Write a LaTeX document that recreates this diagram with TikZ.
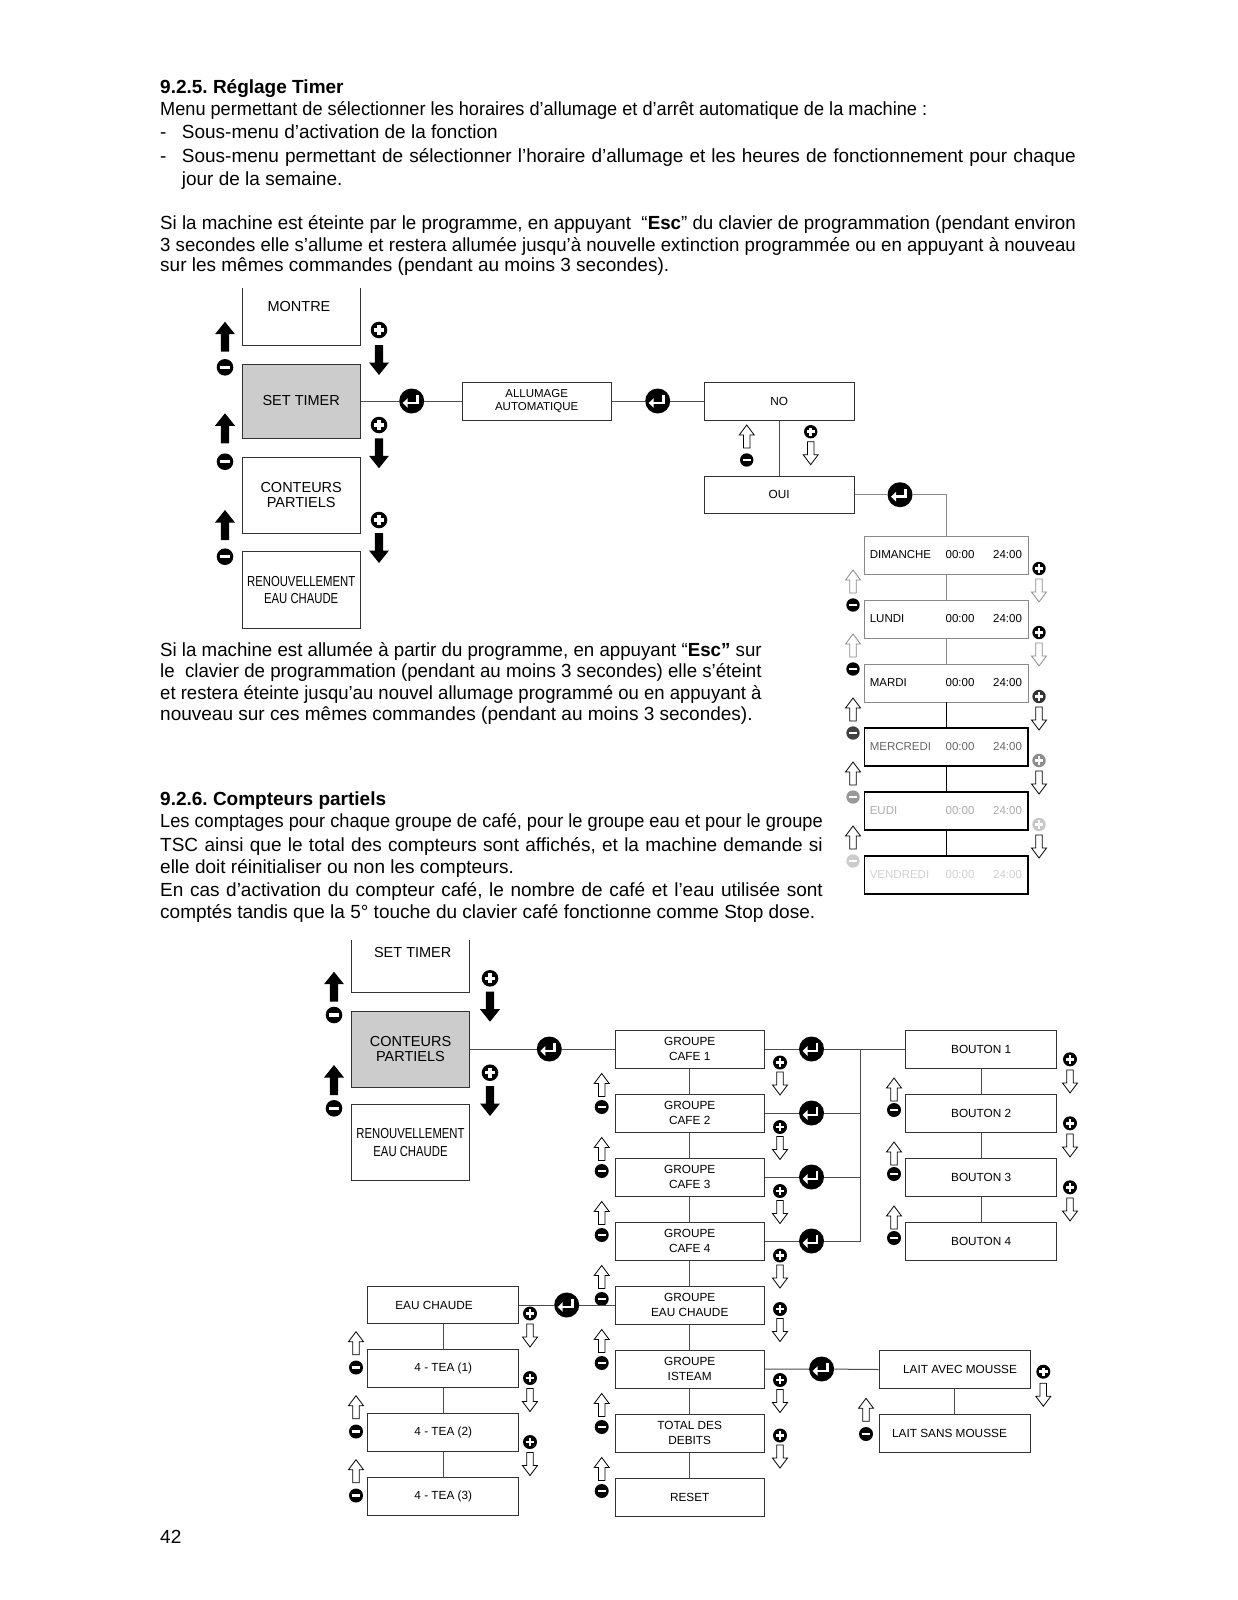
\documentclass[tikz,border=0pt]{standalone}
\usepackage{fontspec}
\setmainfont{Liberation Sans}
\usepackage{graphicx}
\usetikzlibrary{calc}
\frenchspacing
\definecolor{selgray}{HTML}{CCCCCC}
\definecolor{dayg}{HTML}{8A8A8A}
\newlength\tlen
\newcommand{\jline}[2]{\settowidth{\tlen}{#2}\ifdim\tlen>#1\relax\resizebox{#1}{\height}{#2}\else\makebox[#1][s]{#2}\fi}
\newcommand{\bodyf}{\fontsize{19}{22}\selectfont}
\newcommand{\lbig}{\fontsize{14.5}{15}\selectfont}
\newcommand{\lsm}{\fontsize{11.8}{15}\selectfont}
\newcommand{\lday}{\fontsize{11.5}{13}\selectfont}
\newcommand{\nrw}[1]{\scalebox{0.78}[1]{#1}}
\newcommand{\minusc}[4][black]{\fill[#1] (#2,#3) circle[radius=#4pt]; \fill[white] (#2,#3) ++(-0.6*#4,-0.19*#4) rectangle ++(1.2*#4,0.38*#4);}
\newcommand{\plusc}[4][black]{\fill[#1] (#2,#3) circle[radius=#4pt]; \fill[white] (#2,#3) ++(-0.6*#4,-0.19*#4) rectangle ++(1.2*#4,0.38*#4); \fill[white] (#2,#3) ++(-0.19*#4,-0.6*#4) rectangle ++(0.38*#4,1.2*#4);}
\newcommand{\blkup}[2]{\fill (#1,#2) -- ++(10,12.5) -- ++(-5.85,0) -- ++(0,17.5) -- ++(-8.3,0) -- ++(0,-17.5) -- ++(-5.85,0) -- cycle;}
\newcommand{\blkdown}[2]{\fill (#1,#2) ++(-4.15,0) -- ++(8.3,0) -- ++(0,17.5) -- ++(5.85,0) -- ++(-10,12.5) -- ++(-10,-12.5) -- ++(5.85,0) -- cycle;}
\newcommand{\oup}[3][black]{\draw[#1, line width=0.8pt, fill=white] (#2,#3) -- ++(7.5,10) -- ++(-4.25,0) -- ++(0,13) -- ++(-6.5,0) -- ++(0,-13) -- ++(-4.25,0) -- cycle;}
\newcommand{\odown}[3][black]{\draw[#1, line width=0.8pt, fill=white] (#2,#3) ++(-3.25,0) -- ++(6.5,0) -- ++(0,13) -- ++(4.25,0) -- ++(-7.5,10) -- ++(-7.5,-10) -- ++(4.25,0) -- cycle;}
\tikzset{
  box/.style={draw=black!80, line width=1pt, inner sep=0pt, align=center},
  menubox/.style={box, minimum width=117.7, font=\lbig},
  gbox/.style={box, minimum width=149.3, minimum height=38, font=\lsm},
  dbox/.style={minimum width=163.6, minimum height=38, inner sep=0pt},
  conn/.style={draw=black!70, line width=1pt},
  txt/.style={anchor=base west, inner sep=0pt, font=\bodyf},
  enterk/.style={circle, fill=black, minimum size=25, inner sep=0pt, path picture={
    \fill[white] ($(path picture bounding box.center)+(-9pt,-2pt)$) -- ++(5pt,4.8pt) -- ++(0pt,-9.6pt) -- cycle;
    \draw[white, line width=2.8pt] ($(path picture bounding box.center)+(-5pt,-2pt)$) -- ++(10.5pt,0pt) -- ++(0pt,8pt);
  }},
}
\begin{document}
\begin{tikzpicture}[x=1pt, y=-1pt]
\fill[white] (0,0) rectangle (1237,1600);
\useasboundingbox (0,0) rectangle (1237,1600);

% ---------- text ----------
\node[txt, font=\bodyf\bfseries] (h1) at (160,94) {9.2.5. Réglage Timer};
\node[txt] (p1) at (160,116) {\jline{767pt}{Menu permettant de sélectionner les horaires d’allumage et d’arrêt automatique de la machine :}};
\node[txt] (p2a) at (160,139) {-};
\node[txt] (p2) at (181.7,139) {Sous-menu d’activation de la fonction};
\node[txt] (p3a) at (160,162) {-};
\node[txt] (p3) at (181.7,162) {\jline{894pt}{Sous-menu permettant de sélectionner l’horaire d’allumage et les heures de fonctionnement pour chaque}};
\node[txt] (p4) at (181.7,185) {jour de la semaine.};
\node[txt] (p5) at (160,229.5) {\jline{915.7pt}{Si la machine est éteinte par le programme, en appuyant\ \ “\textbf{Esc}” du clavier de programmation (pendant environ}};
\node[txt] (p6) at (160,251) {\jline{915.7pt}{3 secondes elle s’allume et restera allumée jusqu’à nouvelle extinction programmée ou en appuyant à nouveau}};
\node[txt] (p7) at (160,271.5) {sur les mêmes commandes (pendant au moins 3 secondes).};

\node[txt] (m1) at (160,656) {\jline{601.4pt}{Si la machine est allumée à partir du programme, en appuyant “\textbf{Esc”} sur}};
\node[txt] (m2) at (160,677.5) {\jline{601.4pt}{le\ \ clavier de programmation (pendant au moins 3 secondes) elle s’éteint}};
\node[txt] (m3) at (160,699) {\jline{601.4pt}{et restera éteinte jusqu’au nouvel allumage programmé ou en appuyant à}};
\node[txt] (m4) at (160,720.5) {nouveau sur ces mêmes commandes (pendant au moins 3 secondes).};

\node[txt, font=\bodyf\bfseries] (h2) at (160,805) {9.2.6. Compteurs partiels};
\node[txt] (s1) at (160,827.5) {\jline{662.6pt}{Les comptages pour chaque groupe de café, pour le groupe eau et pour le groupe}};
\node[txt] (s2) at (160,851) {\jline{662.6pt}{TSC ainsi que le total des compteurs sont affichés, et la machine demande si}};
\node[txt] (s3) at (160,873.5) {elle doit réinitialiser ou non les compteurs.};
\node[txt] (s4) at (160,896) {\jline{662.6pt}{En cas d’activation du compteur café, le nombre de café et l’eau utilisée sont}};
\node[txt] (s5) at (160,918.5) {comptés tandis que la 5° touche du clavier café fonctionne comme Stop dose.};
\node[txt] (pg) at (160,1543) {42};

% ---------- top diagram ----------
\node[inner sep=0pt, minimum width=117.7, minimum height=57] (montre) at (301.2,316.5) {};
\draw[conn, draw=black!80] (montre.north west) -- (montre.south west) -- (montre.south east) -- (montre.north east);
\node[font=\lbig, inner sep=0pt] (montreT) at (299,306.7) {MONTRE};
\node[menubox, fill=selgray, minimum height=74] (st1) at (301.2,401) {SET TIMER};
\node[menubox, minimum height=75.6] (ct1) at (301.2,495.5) {CONTEURS\\PARTIELS};
\node[menubox, minimum height=76.6, font=\fontsize{14.5}{17.3}\selectfont] (rn1) at (301.2,590) {\nrw{RENOUVELLEMENT}\\\nrw{EAU CHAUDE}};

\blkup{225}{321.7} \minusc{225}{367.3}{8.3}
\blkup{225}{413.3} \minusc{225}{461.7}{8.3}
\blkup{225}{510} \minusc{225}{556.7}{8.3}
\plusc{379}{330}{8.3} \blkdown{379}{345}
\plusc{379}{425}{8.3} \blkdown{379}{438.3}
\plusc{379}{520}{8.3} \blkdown{379}{533}

\node[enterk] (en1) at (411.7,401) {};
\node[box, minimum width=148.7, minimum height=38, font=\fontsize{11.5}{13.7}\selectfont] (allum) at (536.7,401) {ALLUMAGE\\AUTOMATIQUE};
\draw[conn] (st1.east) -- (en1) -- (allum.west);
\node[enterk] (en2) at (657.7,401) {};
\node[box, minimum width=149.7, minimum height=38, font=\lsm] (no) at (779.2,401) {NO};
\draw[conn] (allum.east) -- (en2) -- (no.west);
\node[box, minimum width=149.7, minimum height=37.3, font=\lsm] (oui) at (779.2,494.7) {OUI};
\draw[conn] (no.south) -- (oui.north);
\oup{746.7}{425} \minusc{746.7}{460}{6.7}
\plusc{810.7}{431.7}{6.7} \odown{810.7}{441.7}

\node[enterk] (en3) at (900,494.7) {};
\foreach \i/\yy/\nm/\tc/\bc/\lw in {1/555/DIMANCHE/black/dayg/0.8, 2/619/LUNDI/black/dayg/0.8, 3/683/MARDI/black/dayg/0.8, 4/747/MERCREDI/black!60/black/1.3, 5/811/EUDI/black!32/black/1.3, 6/875/VENDREDI/black!18/black/1.3} {
  \node[dbox, draw=\bc, line width=\lw pt] (d\i) at (946.2,\yy) {};
  \node[anchor=west, inner sep=0pt, font=\lday, text=\tc] (dn\i) at (869.6,\yy) {\nm};
  \node[inner sep=0pt, font=\lday, text=\tc] (da\i) at (960,\yy) {00:00};
  \node[inner sep=0pt, font=\lday, text=\tc] (db\i) at (1007.5,\yy) {24:00};
}
\draw[dayg, line width=0.8pt] (oui.east) -- (en3) -- (en3 -| d1.north) -- (d1.north);
\draw[dayg, line width=0.8pt] (d1.south) -- (d2.north);
\draw[dayg, line width=0.8pt] (d2.south) -- (d3.north);
\draw[black, line width=1.3pt] (d3.south) -- (d4.north);
\draw[black, line width=1.3pt] (d4.south) -- (d5.north);
\draw[black, line width=1.3pt] (d5.south) -- (d6.north);

\oup[dayg]{853}{570} \minusc{853}{605}{6.7}
\oup[dayg]{853}{634} \minusc{853}{669}{6.7}
\oup{853}{698} \minusc[black!75]{853}{733}{6.7}
\oup{853}{762} \minusc[black!40]{853}{797}{6.7}
\oup{853}{826} \minusc[black!20]{853}{861}{6.7}
\plusc{1039}{568.5}{6.7} \odown[dayg]{1039}{579}
\plusc{1039}{632.5}{6.7} \odown[dayg]{1039}{643}
\plusc[black!80]{1039}{696.5}{6.7} \odown{1039}{707}
\plusc[black!45]{1039}{760.5}{6.7} \odown{1039}{771}
\plusc[black!22]{1039}{824.5}{6.7} \odown{1039}{835}

% ---------- bottom diagram ----------
\node[inner sep=0pt, minimum width=117.6, minimum height=52.7] (st2) at (410.5,966.35) {};
\draw[conn, draw=black!80] (st2.north west) -- (st2.south west) -- (st2.south east) -- (st2.north east);
\node[font=\lbig, inner sep=0pt] (st2T) at (412.7,952.7) {SET TIMER};
\node[menubox, fill=selgray, minimum height=76] (ct2) at (410.5,1049) {CONTEURS\\PARTIELS};
\node[menubox, minimum height=76.4, font=\fontsize{14.5}{17.3}\selectfont] (rn2) at (410.5,1142.5) {\nrw{RENOUVELLEMENT}\\\nrw{EAU CHAUDE}};
\blkup{334}{971.7} \minusc{334}{1015}{8.3}
\blkup{334}{1065} \minusc{334}{1108.3}{8.3}
\plusc{490}{978.3}{8.3} \blkdown{490}{991.7}
\plusc{490}{1072.7}{8.3} \blkdown{490}{1086}

\node[enterk] (en4) at (549.3,1049) {};
\node[gbox] (g1) at (689.7,1049) {GROUPE\\CAFE 1};
\node[gbox] (g2) at (689.7,1113) {GROUPE\\CAFE 2};
\node[gbox] (g3) at (689.7,1177) {GROUPE\\CAFE 3};
\node[gbox] (g4) at (689.7,1241) {GROUPE\\CAFE 4};
\node[gbox] (g5) at (689.7,1305) {GROUPE\\EAU CHAUDE};
\node[gbox] (g6) at (689.7,1369) {GROUPE\\ISTEAM};
\node[gbox] (g7) at (689.7,1433) {TOTAL DES\\DEBITS};
\node[gbox] (g8) at (689.7,1497) {RESET};
\draw[conn] (ct2.east) -- (en4) -- (g1.west);
\foreach \a/\b in {1/2,2/3,3/4,4/5,5/6,6/7,7/8} {\draw[conn] (g\a.south) -- (g\b.north);}
\foreach \i in {0,...,6} {
  \pgfmathsetmacro\ya{1073.5+64*\i}
  \pgfmathsetmacro\yb{1107+64*\i}
  \oup{601.7}{\ya} \minusc{601.7}{\yb}{7}
}
\foreach \yy in {1062.5,1127,1191,1255.5,1309,1380,1435.5} {
  \pgfmathsetmacro\yc{\yy+9.5}
  \plusc{780}{\yy}{7} \odown{780}{\yc}
}

\foreach \i/\yy in {5/1049,6/1113,7/1177,8/1241} {
  \node[enterk] (en\i) at (811.5,\yy) {};
  \coordinate (bus\i) at (860.5,\yy);
}
\node[gbox, minimum width=151] (b1) at (981.2,1049) {BOUTON 1};
\node[gbox, minimum width=151] (b2) at (981.2,1113) {BOUTON 2};
\node[gbox, minimum width=151] (b3) at (981.2,1177) {BOUTON 3};
\node[gbox, minimum width=151] (b4) at (981.2,1241) {BOUTON 4};
\draw[conn] (g1.east) -- (en5) -- (bus5) -- (b1.west);
\draw[conn] (g2.east) -- (en6) -- (bus6);
\draw[conn] (g3.east) -- (en7) -- (bus7);
\draw[conn] (g4.east) -- (en8) -- (bus8);
\draw[conn] (bus5) -- (bus8);
\foreach \a/\b in {1/2,2/3,3/4} {\draw[conn] (b\a.south) -- (b\b.north);}
\foreach \i in {0,1,2} {
  \pgfmathsetmacro\ya{1078+64*\i}
  \pgfmathsetmacro\yb{1110+64*\i}
  \pgfmathsetmacro\yc{1059.3+64*\i}
  \pgfmathsetmacro\yd{1070+64*\i}
  \oup{894}{\ya} \minusc{894}{\yb}{7}
  \plusc{1070}{\yc}{7} \odown{1070}{\yd}
}

\node[enterk] (en9) at (821.6,1369) {};
\node[gbox, minimum width=151] (l1) at (954.5,1369.5) {\hspace*{11pt}LAIT AVEC MOUSSE};
\node[gbox, minimum width=151] (l2) at (954.5,1433.7) {LAIT SANS MOUSSE\hspace*{10pt}};
\draw[conn] (g6.east) -- (en9) -- (l1.west);
\draw[conn] (l1.south) -- (l2.north);
\oup{866}{1398.3} \minusc{866}{1434}{7}
\plusc{1043.3}{1371.7}{7} \odown{1043.3}{1383.3}

\node[gbox, minimum width=151.3, minimum height=37] (ec0) at (443.3,1305) {EAU CHAUDE\hspace*{18.6pt}};
\node[gbox, minimum width=151.3, minimum height=37.5] (tea1) at (443.3,1368.3) {4 - TEA (1)};
\node[gbox, minimum width=151.3, minimum height=37.5] (tea2) at (443.3,1432.3) {4 - TEA (2)};
\node[gbox, minimum width=151.3, minimum height=37.5] (tea3) at (443.3,1496.3) {4 - TEA (3)};
\node[enterk] (en10) at (566.7,1305) {};
\draw[conn] (ec0.east) -- (en10) -- (g5.west);
\draw[conn] (ec0.south) -- (tea1.north);
\draw[conn] (tea1.south) -- (tea2.north);
\draw[conn] (tea2.south) -- (tea3.north);
\foreach \i in {0,1,2} {
  \pgfmathsetmacro\ya{1331.7+64*\i}
  \pgfmathsetmacro\yb{1367.5+64*\i}
  \oup{356}{\ya} \minusc{356}{\yb}{7}
}
\plusc{530}{1313.5}{7} \odown{530}{1324}
\plusc{530}{1378}{7} \odown{530}{1388.5}
\plusc{530}{1442}{7} \odown{530}{1452.5}
\end{tikzpicture}
\end{document}
